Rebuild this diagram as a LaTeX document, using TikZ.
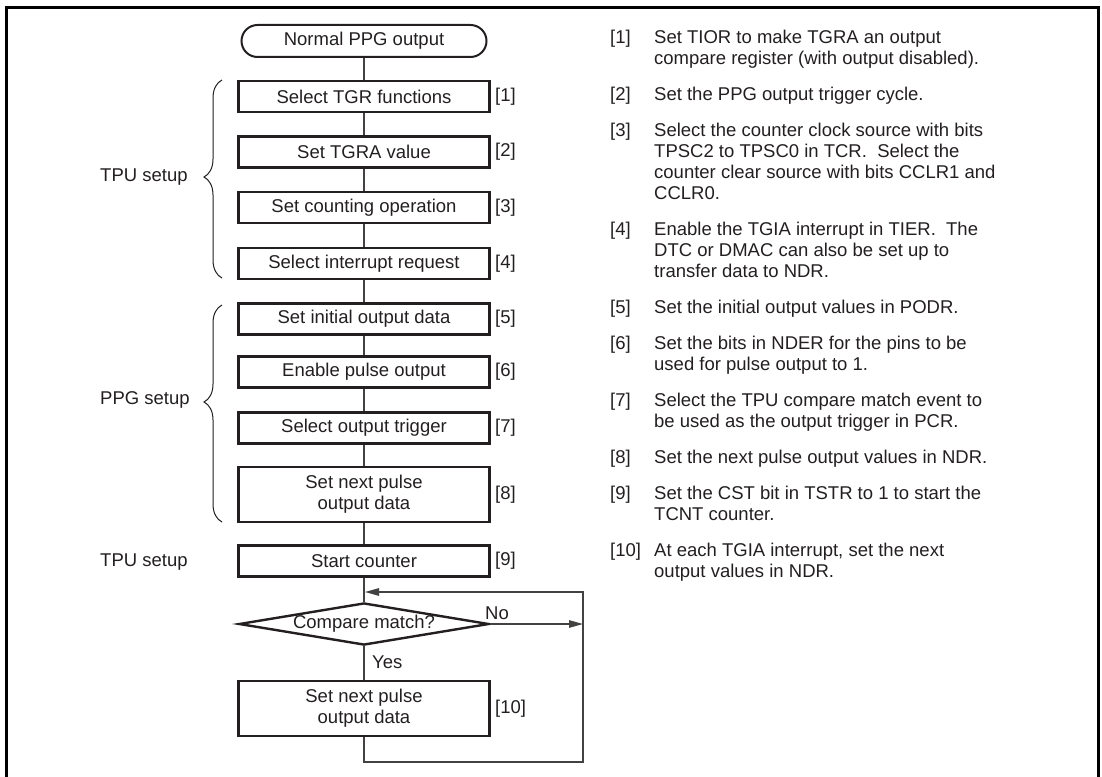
\documentclass[tikz,border=0pt]{standalone}
\usepackage{fontspec}
\setmainfont{Liberation Sans}
\usetikzlibrary{shapes.geometric,arrows.meta,decorations.pathreplacing}
\definecolor{ink}{HTML}{231F20}
\begin{document}
\begin{tikzpicture}[x=1pt,y=-1pt,
  every node/.style={font=\fontsize{18.5}{21}\selectfont, text=ink},
  stepbox/.style={draw=ink, line width=2.4pt, minimum width=251pt, minimum height=31pt, inner sep=0pt, align=center},
  tallbox/.style={stepbox, minimum height=54.6pt},
  term/.style={draw=ink, line width=2pt, rounded corners=16pt, minimum width=245pt, minimum height=32pt, inner sep=0pt},
  dia/.style={draw=ink, line width=2.4pt, diamond, aspect=5.7, minimum width=250pt, minimum height=42pt, inner sep=0pt},
  conn/.style={draw=ink!85, line width=1.3pt, line join=miter},
  arr/.style={conn, -{Triangle[length=14pt,width=7.5pt]}},
  tag/.style={anchor=west, inner sep=0pt},
  note/.style={anchor=base west, inner sep=0pt},
  brc/.style={draw=ink, line width=1pt, decorate},
]
\useasboundingbox (0,0) rectangle (1102,776);
% outer frame
\draw[line width=3pt] (6.5,7.5) rectangle (1098.5,800);

% flow
\node[term] (t) at (364,41) {Normal PPG output};
\node[stepbox] (b1) at (364,96.5) {Select TGR functions};
\node[stepbox] (b2) at (364,152) {Set TGRA value};
\node[stepbox] (b3) at (364,207.5) {Set counting operation};
\node[stepbox] (b4) at (364,263.5) {Select interrupt request};
\node[stepbox] (b5) at (364,319) {Set initial output data};
\node[stepbox] (b6) at (364,372) {Enable pulse output};
\node[stepbox] (b7) at (364,428) {Select output trigger};
\node[tallbox] (b8) at (364,494.5) {Set next pulse\\output data};
\node[stepbox] (b9) at (364,561) {Start counter};
\node[dia] (d) at (364,624) {Compare match?};
\node[tallbox] (b10) at (364,708.5) {Set next pulse\\output data};

\draw[conn] (t) -- (b1);
\draw[conn] (b1) -- (b2);
\draw[conn] (b2) -- (b3);
\draw[conn] (b3) -- (b4);
\draw[conn] (b4) -- (b5);
\draw[conn] (b5) -- (b6);
\draw[conn] (b6) -- (b7);
\draw[conn] (b7) -- (b8);
\draw[conn] (b8) -- (b9);
\draw[conn] (b9) -- (d);
\draw[conn] (d) -- (b10);

\coordinate (lb) at (364,762);
\coordinate (lr) at (583,762);
\coordinate (lt) at (583,592);
\coordinate (lj) at (365,592);
\draw[arr] (b10.south) -- (lb) -- (lr) -- (lt) -- (lj);
\draw[arr] (d.east) -- (d.east -| lt);
\node[tag] (no) at (485,613) {No};
\node[tag] (yes) at (372,662) {Yes};

% step tags
\node[tag] (l1) at (495,96.5) {[1]};
\node[tag] (l2) at (495,152) {[2]};
\node[tag] (l3) at (495,207.5) {[3]};
\node[tag] (l4) at (495,263.5) {[4]};
\node[tag] (l5) at (495,319) {[5]};
\node[tag] (l6) at (495,372) {[6]};
\node[tag] (l7) at (495,428) {[7]};
\node[tag] (l8) at (495,494.5) {[8]};
\node[tag] (l9) at (495,561) {[9]};
\node[tag] (l10) at (495,708.5) {[10]};

% group labels and braces
\node[tag] (g1) at (100,177) {TPU setup};
\node[tag] (g2) at (100,400) {PPG setup};
\node[tag] (g3) at (100,562) {TPU setup};
\draw[brc, decoration={brace, amplitude=18pt, aspect=0.51}] (222,278) -- (222,80);
\draw[brc, decoration={brace, amplitude=18pt, aspect=0.553}] (222,522) -- (222,305);

% notes
\node[note] (n1) at (610,43.6) {[1]};
\node[note] (p1) at (654,43.6) {\vtop{\hbox{Set TIOR to make TGRA an output}\hbox{compare register (with output disabled).}}};
\node[note] (n2) at (610,100.6) {[2]};
\node[note] (p2) at (654,100.6) {\vtop{\hbox{Set the PPG output trigger cycle.}}};
\node[note] (n3) at (610,136.6) {[3]};
\node[note] (p3) at (654,136.6) {\vtop{\hbox{Select the counter clock source with bits}\hbox{TPSC2 to TPSC0 in TCR.\ \ Select the}\hbox{counter clear source with bits CCLR1 and}\hbox{CCLR0.}}};
\node[note] (n4) at (610,235.6) {[4]};
\node[note] (p4) at (654,235.6) {\vtop{\hbox{Enable the TGIA interrupt in TIER.\ \ The}\hbox{DTC or DMAC can also be set up to}\hbox{transfer data to NDR.}}};
\node[note] (n5) at (610,313.6) {[5]};
\node[note] (p5) at (654,313.6) {\vtop{\hbox{Set the initial output values in PODR.}}};
\node[note] (n6) at (610,349.6) {[6]};
\node[note] (p6) at (654,349.6) {\vtop{\hbox{Set the bits in NDER for the pins to be}\hbox{used for pulse output to 1.}}};
\node[note] (n7) at (610,406.6) {[7]};
\node[note] (p7) at (654,406.6) {\vtop{\hbox{Select the TPU compare match event to}\hbox{be used as the output trigger in PCR.}}};
\node[note] (n8) at (610,463.6) {[8]};
\node[note] (p8) at (654,463.6) {\vtop{\hbox{Set the next pulse output values in NDR.}}};
\node[note] (n9) at (610,499.6) {[9]};
\node[note] (p9) at (654,499.6) {\vtop{\hbox{Set the CST bit in TSTR to 1 to start the}\hbox{TCNT counter.}}};
\node[note] (n10) at (610,556.6) {[10]};
\node[note] (p10) at (654,556.6) {\vtop{\hbox{At each TGIA interrupt, set the next}\hbox{output values in NDR.}}};
\end{tikzpicture}
\end{document}
